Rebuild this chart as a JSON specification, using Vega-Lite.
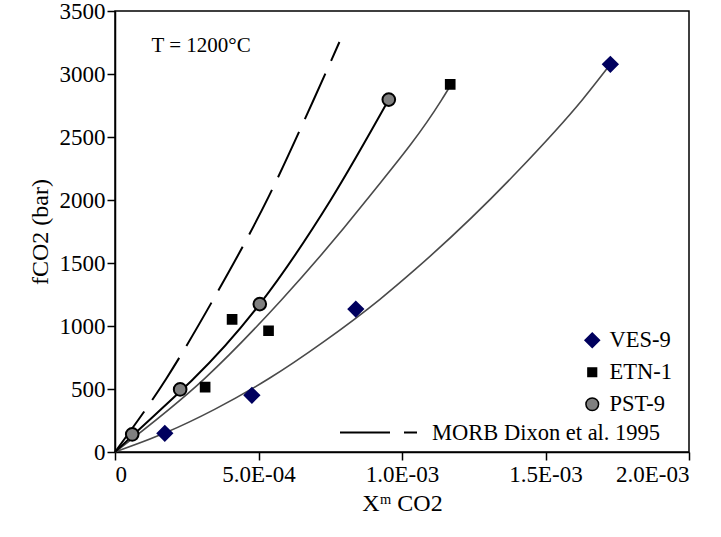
{
  "$schema": "https://vega.github.io/schema/vega-lite/v6.json",
  "width": 574,
  "height": 441,
  "autosize": {"type": "none"},
  "padding": {"left": 115, "top": 11, "right": 32, "bottom": 85},
  "background": "white",
  "config": {
    "view": {"stroke": "black", "strokeWidth": 1.5},
    "font": "Liberation Serif",
    "axis": {
      "grid": false,
      "domainColor": "black",
      "domainWidth": 1.5,
      "tickColor": "black",
      "tickWidth": 1.5,
      "tickSize": 8,
      "labelFont": "Liberation Serif",
      "labelFontSize": 23,
      "labelColor": "black",
      "titleFont": "Liberation Serif",
      "titleFontWeight": "normal",
      "titleColor": "black",
      "titleFontSize": 24
    },
    "legend": {
      "labelFont": "Liberation Serif",
      "labelFontSize": 22.5,
      "labelColor": "black",
      "labelLimit": 0,
      "padding": 0
    }
  },
  "datasets": {
    "points": [
      {"sample": "VES-9", "x": 0.0001735, "y": 148},
      {"sample": "VES-9", "x": 0.000477, "y": 450},
      {"sample": "VES-9", "x": 0.000839, "y": 1134},
      {"sample": "VES-9", "x": 0.001726, "y": 3077},
      {"sample": "ETN-1", "x": 0.000314, "y": 515},
      {"sample": "ETN-1", "x": 0.000408, "y": 1052},
      {"sample": "ETN-1", "x": 0.000535, "y": 962},
      {"sample": "ETN-1", "x": 0.001168, "y": 2918},
      {"sample": "PST-9", "x": 0.00006, "y": 140},
      {"sample": "PST-9", "x": 0.000227, "y": 497},
      {"sample": "PST-9", "x": 0.0005045, "y": 1174},
      {"sample": "PST-9", "x": 0.000954, "y": 2797}
    ],
    "curves": [
      {"series": "PST-9", "x": 0, "y": 0},
      {"series": "PST-9", "x": 0.00006, "y": 128},
      {"series": "PST-9", "x": 0.000227, "y": 480},
      {"series": "PST-9", "x": 0.000271, "y": 575},
      {"series": "PST-9", "x": 0.0005045, "y": 1174},
      {"series": "PST-9", "x": 0.000751, "y": 1998},
      {"series": "PST-9", "x": 0.000954, "y": 2797},
      {"series": "ETN-1", "x": 0, "y": 0},
      {"series": "ETN-1", "x": 0.000313, "y": 585},
      {"series": "ETN-1", "x": 0.000579, "y": 1205},
      {"series": "ETN-1", "x": 0.000875, "y": 1996},
      {"series": "ETN-1", "x": 0.001137, "y": 2791},
      {"series": "ETN-1", "x": 0.001168, "y": 2905},
      {"series": "VES-9", "x": 0, "y": 0},
      {"series": "VES-9", "x": 0.0001735, "y": 150},
      {"series": "VES-9", "x": 0.000347, "y": 338},
      {"series": "VES-9", "x": 0.000538, "y": 585},
      {"series": "VES-9", "x": 0.000724, "y": 870},
      {"series": "VES-9", "x": 0.000922, "y": 1210},
      {"series": "VES-9", "x": 0.001044, "y": 1445},
      {"series": "VES-9", "x": 0.001398, "y": 2216},
      {"series": "VES-9", "x": 0.00163, "y": 2800},
      {"series": "VES-9", "x": 0.001726, "y": 3077}
    ],
    "morb": [
      {"model": "MORB Dixon et al. 1995", "x": 0, "y": 0},
      {"model": "MORB Dixon et al. 1995", "x": 0.000178, "y": 580},
      {"model": "MORB Dixon et al. 1995", "x": 0.000341, "y": 1205},
      {"model": "MORB Dixon et al. 1995", "x": 0.000535, "y": 2025},
      {"model": "MORB Dixon et al. 1995", "x": 0.000689, "y": 2780},
      {"model": "MORB Dixon et al. 1995", "x": 0.000782, "y": 3254}
    ]
  },
  "layer": [
    {
      "data": {"name": "curves"},
      "transform": [{"filter": "datum.series != 'PST-9'"}],
      "mark": {"type": "line", "color": "#4a4a4a", "strokeWidth": 1.6, "interpolate": "monotone"},
      "encoding": {
        "x": {"field": "x", "type": "quantitative", "scale": {"domain": [0, 0.002], "nice": false},
          "axis": {"values": [0, 0.0005, 0.001, 0.0015, 0.002], "labelExpr": "['0','5.0E-04','1.0E-03','1.5E-03','2.0E-03'][round(datum.value*2000)]", "labelPadding": 3, "titlePadding": 5},
          "title": "Xᵐ CO2"},
        "y": {"field": "y", "type": "quantitative", "scale": {"domain": [0, 3500], "nice": false},
          "axis": {"values": [0, 500, 1000, 1500, 2000, 2500, 3000, 3500], "format": "d", "labelPadding": 2, "titlePadding": 7},
          "title": "fCO2 (bar)"},
        "detail": {"field": "series"}
      }
    },
    {
      "data": {"name": "curves"},
      "transform": [{"filter": "datum.series == 'PST-9'"}],
      "mark": {"type": "line", "color": "black", "strokeWidth": 2, "interpolate": "monotone"},
      "encoding": {
        "x": {"field": "x", "type": "quantitative"},
        "y": {"field": "y", "type": "quantitative"}
      }
    },
    {
      "data": {"name": "morb"},
      "mark": {"type": "line", "color": "black", "strokeWidth": 2, "interpolate": "monotone"},
      "encoding": {
        "x": {"field": "x", "type": "quantitative"},
        "y": {"field": "y", "type": "quantitative"},
        "strokeDash": {"field": "model", "type": "nominal", "scale": {"range": [[50, 14]]},
          "legend": {"title": null, "orient": "none", "legendX": 224, "legendY": 382, "symbolType": "stroke", "symbolSize": 5929, "symbolStrokeColor": "black", "symbolStrokeWidth": 2, "labelOffset": 14}}
      }
    },
    {
      "data": {"name": "points"},
      "mark": {"type": "point", "filled": true, "opacity": 1, "strokeWidth": 2},
      "encoding": {
        "x": {"field": "x", "type": "quantitative"},
        "y": {"field": "y", "type": "quantitative"},
        "shape": {"field": "sample", "type": "nominal", "scale": {"domain": ["VES-9", "ETN-1", "PST-9"], "range": ["diamond", "square", "circle"]},
          "legend": {"title": null, "orient": "none", "legendX": 466, "legendY": 318, "rowPadding": 9, "labelOffset": 6}},
        "fill": {"field": "sample", "type": "nominal", "scale": {"domain": ["VES-9", "ETN-1", "PST-9"], "range": ["#00005e", "#000000", "#808080"]}},
        "stroke": {"field": "sample", "type": "nominal", "scale": {"domain": ["VES-9", "ETN-1", "PST-9"], "range": ["#00005e", "#000000", "#000000"]}},
        "size": {"field": "sample", "type": "nominal", "scale": {"type": "ordinal", "domain": ["VES-9", "ETN-1", "PST-9"], "range": [210, 75, 160]}}
      }
    },
    {
      "data": {"values": [{}]},
      "mark": {"type": "text", "align": "left", "baseline": "alphabetic", "font": "Liberation Serif", "fontSize": 21, "color": "black"},
      "encoding": {
        "x": {"datum": 0.000127},
        "y": {"datum": 3172},
        "text": {"value": "T = 1200°C"}
      }
    }
  ]
}
